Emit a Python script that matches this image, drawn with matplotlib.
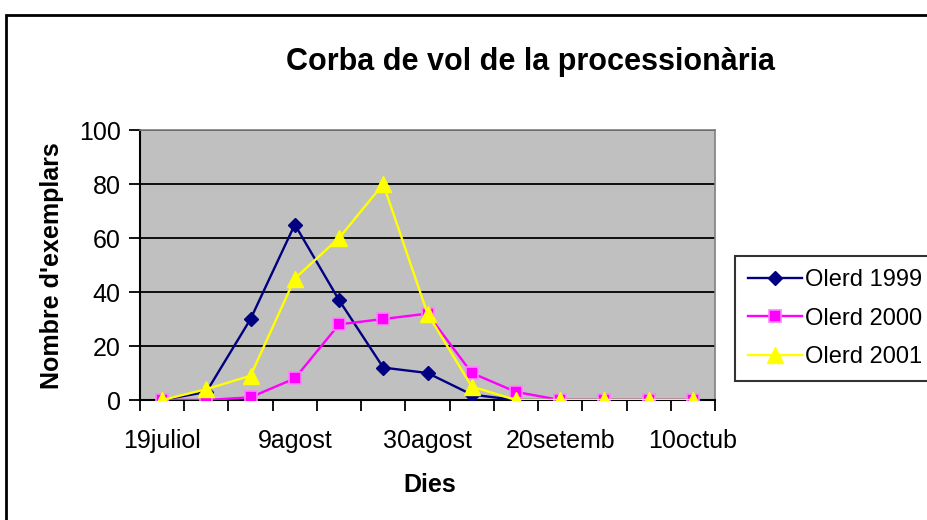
import matplotlib
matplotlib.use("Agg")
import matplotlib.pyplot as plt
from matplotlib.patches import Rectangle
import numpy as np

plt.rcParams['font.family'] = ['Liberation Sans', 'DejaVu Sans']

# ---- data ----
n_points = 13
tick_labels = ["19juliol", "9agost", "30agost", "20setemb", "10octub"]
tick_label_step = 3
olerd_1999 = [0, 3, 30, 65, 37, 12, 10, 2, 0, 0, 0, 0, 0]
olerd_2000 = [0, 0, 1, 8, 28, 30, 32, 10, 3, 0, 0, 0, 0]
olerd_2001 = [0, 4, 9, 45, 60, 80, 32, 5, 0, 0, 0, 0, 0]
series_names = ["Olerd 1999", "Olerd 2000", "Olerd 2001"]

W, H = 927, 520
fig = plt.figure(figsize=(W / 100, H / 100), dpi=100)
ax = fig.add_axes([140 / W, 1 - 400 / H, (715 - 140) / W, (400 - 130) / H])
ax.set_facecolor('#C0C0C0')

x = np.arange(n_points)
l1, = ax.plot(x, olerd_1999, color='#000080', lw=1.7, marker='D', ms=7.5,
              mfc='#000080', mec='#000080', zorder=3)
l2, = ax.plot(x, olerd_2000, color='#FF00FF', lw=1.7, marker='s', ms=8,
              mfc='#FF00FF', mec='#FF80FF', mew=1.2, zorder=4)
l3, = ax.plot(x, olerd_2001, color='#FFFF00', lw=1.7, marker='^', ms=11,
              mfc='#FFFF00', mec='#FFFF00', zorder=5)

ax.set_xlim(-0.5, n_points - 0.5)
ax.set_ylim(0, 100)
ax.set_yticks(np.arange(0, 101, 20))
ax.yaxis.grid(True, color='black', lw=1.3)
ax.set_axisbelow(True)

# category boundary ticks
ax.set_xticks(np.arange(-0.5, n_points, 1.0))
ax.set_xticklabels([])
ax.set_xticks(np.arange(0, n_points, tick_label_step), minor=True)
ax.set_xticklabels(tick_labels, minor=True)
ax.tick_params(axis='x', which='major', length=8, width=1.3, direction='out')
ax.tick_params(axis='x', which='minor', length=0, pad=21, labelsize=18)
ax.tick_params(axis='y', length=8, width=1.3, direction='out', pad=6, labelsize=18)

for s in ['left', 'bottom']:
    ax.spines[s].set_color('black')
    ax.spines[s].set_linewidth(1.5)
for s in ['top', 'right']:
    ax.spines[s].set_color('#808080')
    ax.spines[s].set_linewidth(1.2)

fig.text(530 / W, 1 - 62 / H, "Corba de vol de la processionària", ha='center',
         va='center', fontsize=22, fontweight='bold')
fig.text(430 / W, 1 - 485 / H, "Dies", ha='center', va='center', fontsize=18,
         fontweight='bold')
fig.text(52 / W, 1 - 266 / H, "Nombre d'exemplars", ha='center', va='center',
         rotation=90, fontsize=18, fontweight='bold')

leg = fig.legend([l1, l2, l3], series_names, loc='upper left',
                 bbox_to_anchor=(735 / W, 1 - 256 / H), bbox_transform=fig.transFigure,
                 fontsize=17, frameon=True, fancybox=False, edgecolor='black',
                 handlelength=2.3, handletextpad=0.1, labelspacing=0.7,
                 borderpad=0.55, borderaxespad=0)
leg.get_frame().set_linewidth(1.5)

fig.patches.append(Rectangle((5.5 / W, -0.1), 1.2, 1 - 14.5 / H + 0.1,
                             transform=fig.transFigure, fill=False,
                             edgecolor='black', lw=2, zorder=10))

fig.savefig("out.png", dpi=100)
